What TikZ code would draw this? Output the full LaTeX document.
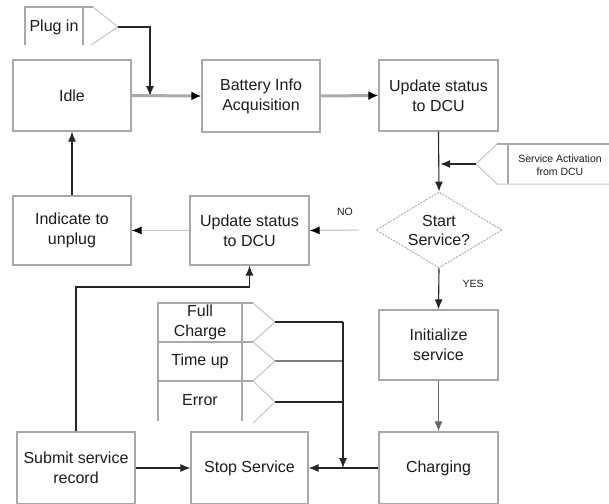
\documentclass[tikz,border=0pt]{standalone}
\usepackage{fontspec}
\setmainfont{Liberation Sans}
\usetikzlibrary{arrows.meta,shapes.geometric}
\definecolor{boxgray}{HTML}{A8A8A8}
\definecolor{pengray}{HTML}{C4C4C4}
\definecolor{thickgray}{HTML}{ABABAB}
\definecolor{txt}{HTML}{1C1C1C}
\definecolor{lnk}{HTML}{262626}
\begin{document}
\begin{tikzpicture}[x=1pt,y=-1pt,
  box/.style={draw=boxgray, line width=1.2pt, minimum width=118pt, minimum height=70pt,
    inner sep=0pt, align=center, font=\fontsize{16}{20}\selectfont, text=txt},
  lbl/.style={inner sep=0pt, align=center, font=\fontsize{16}{20}\selectfont, text=txt},
  small/.style={inner sep=0pt, align=center, font=\fontsize{10.5}{13}\selectfont, text=txt},
  pen/.style={draw=pengray, line width=1pt},
  penedge/.style={draw=boxgray, line width=1.1pt},
  arr/.style={draw=lnk, line width=1.1pt, -{Latex[length=10pt,width=8pt]}},
  link/.style={draw=lnk, line width=1.1pt},
  thickarr/.style={draw=thickgray, line width=3pt, -{Latex[length=10pt,width=9pt,black]}},
  lightarr/.style={draw=pengray, line width=1pt, -{Latex[length=10pt,width=8pt,black]}}]
\clip (0,0) rectangle (609,503);
\fill[white] (0,0) rectangle (609,503);

% boxes
\node[box, minimum height=71pt] (idle) at (72,95.5) {Idle};
\node[box, minimum height=72pt] (bat) at (261,96) {Battery Info\\Acquisition};
\node[box, minimum width=119pt, minimum height=71pt] (upd1) at (438.5,95.5) {Update status\\to DCU};
\node[box, minimum height=69pt] (ind) at (72,230.5) {Indicate to\\unplug};
\node[box, minimum width=119pt, minimum height=69pt] (upd2) at (249.5,230.5) {Update status\\to DCU};
\node[box, minimum width=119pt] (init) at (438.5,345) {Initialize\\service};
\node[box, minimum width=119pt, minimum height=72pt] (chg) at (438.5,468) {Charging};
\node[box, minimum width=117pt, minimum height=72pt] (stop) at (249.5,468) {Stop Service};
\node[box, minimum height=72pt] (sub) at (76,468) {Submit service\\record};

% decision
\node[draw=boxgray, line width=0.9pt, dash pattern=on 2pt off 1.2pt, shape=diamond,
  aspect=1.66, minimum width=126pt, minimum height=76pt, inner sep=0pt,
  align=center, font=\fontsize{16}{19}\selectfont, text=txt] (dia) at (439,230) {Start\\Service?};

% Plug in pennant
\draw[penedge] (25,45) -- (25,7) -- (93,7);
\draw[penedge] (83,7) -- (83,45);
\draw[pen] (93,7) -- (118,27) -- (91,45);
\node[lbl] (plug) at (54,27) {Plug in};
\coordinate (plugtip) at (118,27);
\coordinate (jidle) at (150,96);

% Service activation pennant
\draw[penedge] (609,144) -- (497,144);
\draw[penedge] (508,144) -- (508,184);
\draw[pen] (497,144) -- (476,164) -- (497,184) -- (609,184);
\node[small] (sact) at (560,165) {Service Activation\\from DCU};
\coordinate (sacttip) at (476,164);
\coordinate (jsact) at (440,164);

% Full charge / Time up / Error
\draw[penedge] (158,421) -- (158,303) -- (253,303);
\draw[penedge] (242,303) -- (242,421);
\draw[penedge] (158,342) -- (253,342);
\draw[penedge] (158,381) -- (253,381);
\draw[pen] (253,303) -- (275,322) -- (253,342) -- (275,361) -- (253,381) -- (275,402) -- (253,423);
\node[lbl] (full) at (200,322) {Full\\Charge};
\node[lbl] (tup) at (200,361) {Time up};
\node[lbl] (err) at (200,400) {Error};
\coordinate (fctip) at (275,322);
\coordinate (tutip) at (275,361);
\coordinate (ertip) at (275,402);
\coordinate (jfc) at (343,322);
\coordinate (jtu) at (343,361);
\coordinate (jer) at (343,402);
\coordinate (jstop) at (343,468);
\coordinate (turn) at (249.5,287);

% labels
\node[small] (no) at (345,212) {NO};
\node[small] (yes) at (473,284) {YES};

% connectors
\draw[arr] (plugtip) -| (jidle);
\draw[thickarr] (idle.east) -- (bat.west);
\draw[thickarr] (bat.east) -- (upd1.west);
\draw[arr] (upd1.south) -- (dia.north);
\draw[arr, line width=1.8pt] (sacttip) -- (jsact);
\draw[lightarr, shorten <=17pt] (dia.west) -- (upd2.east);
\draw[lightarr] (upd2.west) -- (ind.east);
\draw[arr] (ind.north) -- (idle.south);
\draw[arr] (dia.south) -- (init.north);
\draw[arr, draw=gray!80!black] (init.south) -- (chg.north);
\draw[arr] (chg.west) -- (stop.east);
\draw[link] (fctip) -- (jfc);
\draw[link, draw=gray] (tutip) -- (jtu);
\draw[link] (ertip) -- (jer);
\draw[arr] (jfc) -- (jstop);
\draw[arr] (sub.east) -- (stop.west);
\draw[arr] (sub.north) |- (turn) -- (upd2.south);
\end{tikzpicture}
\end{document}
